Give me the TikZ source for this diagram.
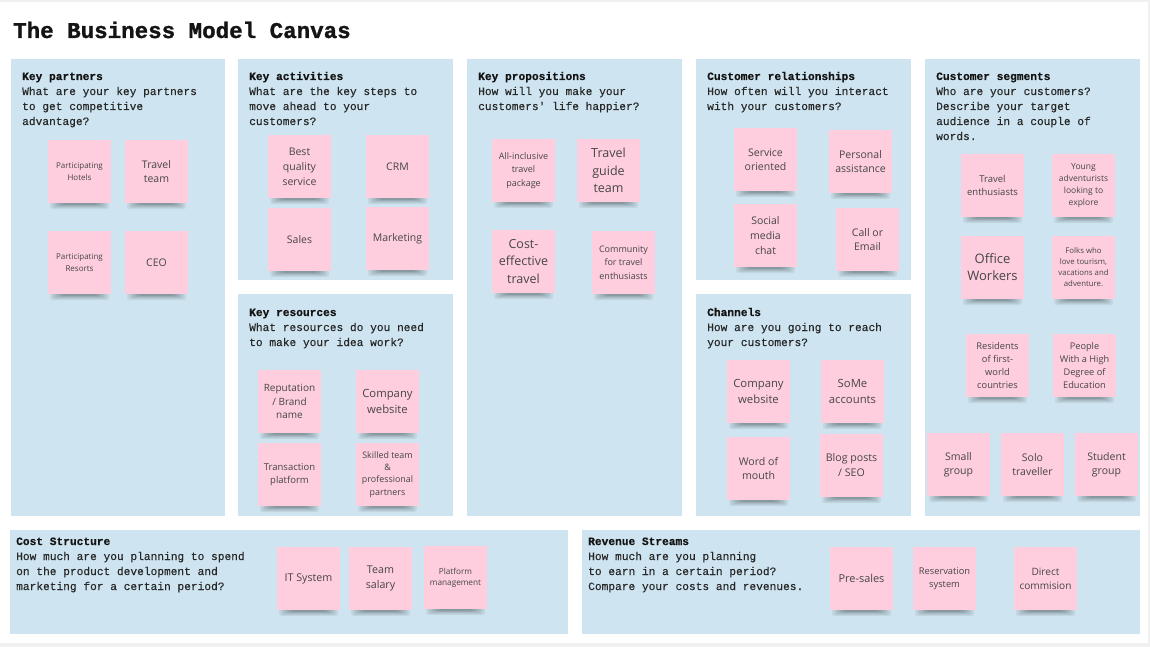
\documentclass[tikz,border=0pt]{standalone}
\usepackage{fontspec}
\setmainfont{Open Sans}
\newfontfamily\monof[UprightFeatures={FakeBold=0.25},BoldFeatures={FakeBold=0.4}]{Liberation Mono}
\newfontfamily\titlef[BoldFeatures={FakeBold=1.2}]{Liberation Mono}
\definecolor{bgGrey}{RGB}{240,240,240}
\definecolor{panelBlue}{RGB}{206,228,240}
\definecolor{notePink}{RGB}{254,205,222}
\definecolor{noteText}{RGB}{70,70,70}
\definecolor{headText}{RGB}{20,20,20}
\definecolor{bodyText}{RGB}{40,40,40}
\tikzset{
  panel/.style={fill=panelBlue, inner sep=0pt, anchor=north west},
  stickynote/.style={fill=notePink, inner sep=0pt, minimum width=63pt, minimum height=63pt, align=center, text=noteText},
  ptext/.style={anchor=base west, inner sep=0pt, text=bodyText, font=\monof\fontsize{11.2}{15}\selectfont},
  shadowlayer/.style={fill=black, opacity=.055, rounded corners=2pt},
}
\newcommand\stickyshadow[2]{%
  \fill[shadowlayer] (#1+2,#2+58) rectangle (#1+61,#2+69);
  \fill[shadowlayer] (#1+4,#2+58) rectangle (#1+59,#2+68);
  \fill[shadowlayer] (#1+6,#2+58) rectangle (#1+57,#2+67);
  \fill[shadowlayer] (#1+8,#2+58) rectangle (#1+55,#2+66);
  \fill[shadowlayer] (#1+10,#2+58) rectangle (#1+53,#2+65.5);
  \fill[shadowlayer] (#1+12,#2+58) rectangle (#1+51,#2+65);
  \fill[shadowlayer] (#1+15,#2+58) rectangle (#1+48,#2+64.5);
}
% name, x, y (top-left), size, lead, text
\newcommand\sticky[6]{%
  \stickyshadow{#2}{#3}
  \node[stickynote, font=\fontsize{#4}{#5}\selectfont] (#1) at (#2+31.5,#3+31.5) {#6};
}
\newcommand\paneltext[4]{%
  \node[ptext] (#1) at (#2,#3) {\begin{tabular}[t]{@{}l@{}}#4\end{tabular}};
}
\newcommand\phead[1]{\textcolor{headText}{\bfseries #1}}
\begin{document}
\begin{tikzpicture}[x=1pt,y=-1pt]
\useasboundingbox (0,0) rectangle (1150,647);
\fill[bgGrey] (0,0) rectangle (1150,647);
\fill[white] (0,2) rectangle (1148,643);

\node[anchor=base west, inner sep=0pt, text=headText, font=\titlef\bfseries\fontsize{22.5}{27}\selectfont] (title) at (13,38) {The Business Model Canvas};

% panels
\node[panel, minimum width=214pt, minimum height=457pt] (kpP) at (11,59) {};
\node[panel, minimum width=215pt, minimum height=221pt] (kaP) at (238,59) {};
\node[panel, minimum width=215pt, minimum height=222pt] (krP) at (238,294) {};
\node[panel, minimum width=215pt, minimum height=457pt] (vpP) at (467,59) {};
\node[panel, minimum width=215pt, minimum height=221pt] (crP) at (696,59) {};
\node[panel, minimum width=215pt, minimum height=222pt] (chP) at (696,294) {};
\node[panel, minimum width=215pt, minimum height=457pt] (csP) at (925,59) {};
\node[panel, minimum width=558pt, minimum height=104pt] (costP) at (10,530) {};
\node[panel, minimum width=558pt, minimum height=104pt] (revP) at (582,530) {};

% panel texts
\paneltext{kpT}{22}{80}{\phead{Key partners}\\What are your key partners\\to get competitive\\advantage?}
\paneltext{kaT}{249}{80}{\phead{Key activities}\\What are the key steps to\\move ahead to your\\customers?}
\paneltext{krT}{249}{316}{\phead{Key resources}\\What resources do you need\\to make your idea work?}
\paneltext{vpT}{478}{80}{\phead{Key propositions}\\How will you make your\\customers' life happier?}
\paneltext{crT}{707}{80}{\phead{Customer relationships}\\How often will you interact\\with your customers?}
\paneltext{chT}{707}{316}{\phead{Channels}\\How are you going to reach\\your customers?}
\paneltext{csT}{936}{80}{\phead{Customer segments}\\Who are your customers?\\Describe your target\\audience in a couple of\\words.}
\paneltext{costT}{16}{545}{\phead{Cost Structure}\\How much are you planning to spend\\on the product development and\\marketing for a certain period?}
\paneltext{revT}{588}{545}{\phead{Revenue Streams}\\How much are you planning\\to earn in a certain period?\\Compare your costs and revenues.}

% Key partners
\sticky{hotels}{48}{140}{8}{12}{Participating\\Hotels}
\sticky{travelteam}{125}{140}{10.5}{14.3}{Travel\\team}
\sticky{resorts}{48}{231}{8}{12}{Participating\\Resorts}
\sticky{ceo}{125}{231}{10.5}{14.3}{CEO}
% Key activities
\sticky{bqs}{268}{135}{10.5}{15}{Best\\quality\\service}
\sticky{crm}{366}{135}{10.5}{14.3}{CRM}
\sticky{sales}{268}{208}{10.5}{14.3}{Sales}
\sticky{mkt}{366}{207}{10.5}{14.3}{Marketing}
% Key resources
\sticky{rep}{258}{370}{10}{13.3}{Reputation\\/ Brand\\name}
\sticky{kweb}{356}{370}{11.3}{15.7}{Company\\website}
\sticky{trans}{258}{443}{9.5}{13.3}{Transaction\\platform}
\sticky{skilled}{356}{443}{8.9}{12.3}{Skilled team\\\&\\professional\\partners}
% Key propositions
\sticky{allinc}{492}{139}{9}{13.3}{All-inclusive\\travel\\package}
\sticky{tguide}{577}{139}{12.5}{17.3}{Travel\\guide\\team}
\sticky{costeff}{492}{230}{12.5}{17.2}{Cost-\\effective\\travel}
\sticky{community}{592}{231}{9}{13.3}{Community\\for travel\\enthusiasts}
% Customer relationships
\sticky{service}{734}{128}{10.5}{14}{Service\\oriented}
\sticky{personal}{829}{130}{10.5}{14}{Personal\\assistance}
\sticky{social}{734}{204}{10.5}{15}{Social\\media\\chat}
\sticky{call}{836}{208}{10.5}{14}{Call or\\Email}
% Channels
\sticky{chweb}{727}{360}{11.3}{16.3}{Company\\website}
\sticky{some}{821}{360}{11.3}{16.3}{SoMe\\accounts}
\sticky{word}{727}{437}{10.6}{14.7}{Word of\\mouth}
\sticky{blog}{820}{434}{10.6}{15}{Blog posts\\/ SEO}
% Customer segments
\sticky{tenth}{961}{154}{9.5}{13.3}{Travel\\enthusiasts}
\sticky{young}{1052}{154}{8.5}{12}{Young\\adventurists\\looking to\\explore}
\sticky{office}{961}{236}{13}{17}{Office\\Workers}
\sticky{folks}{1052}{236}{7.8}{11}{Folks who\\love tourism,\\vacations and\\adventure.}
\sticky{residents}{966}{334}{9.3}{13.2}{Residents\\of first-\\world\\countries}
\sticky{people}{1053}{334}{9.2}{13.2}{People\\With a High\\Degree of\\Education}
\sticky{small}{927}{433}{10.5}{14.3}{Small\\group}
\sticky{solo}{1001}{433}{10.5}{14.3}{Solo\\traveller}
\sticky{student}{1075}{433}{10.5}{14.3}{Student\\group}
% Cost structure
\sticky{itsys}{277}{547}{10.7}{14.3}{IT System}
\sticky{salary}{349}{547}{10.7}{14.3}{Team\\salary}
\sticky{platform}{424}{546}{8.2}{11}{Platform\\management}
% Revenue streams
\sticky{presales}{830}{547}{10.9}{14.3}{Pre-sales}
\sticky{reservation}{913}{547}{9.3}{13.3}{Reservation\\system}
\sticky{direct}{1014}{547}{10.1}{14.3}{Direct\\commision}
\end{tikzpicture}
\end{document}
